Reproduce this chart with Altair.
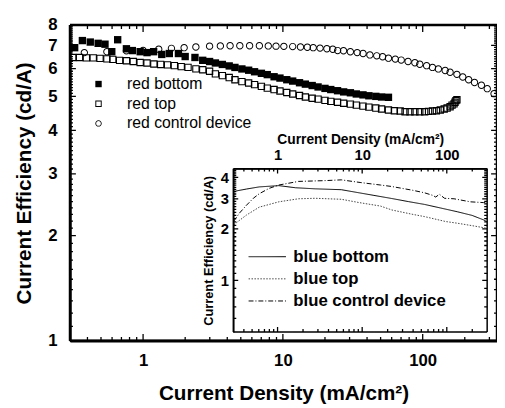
import altair as alt
import pandas as pd

FONT = "Liberation Sans"

RED_NAMES = ["red bottom", "red top", "red control device"]
BLUE_NAMES = ["blue bottom", "blue top", "blue control device"]

# ---------------- main plot data (red devices) ----------------
red_bottom_x = [0.324, 0.368, 0.419, 0.477, 0.534, 0.597, 0.658, 0.760, 0.838, 0.953,
                1.067, 1.19, 1.36, 1.54, 1.79, 2.00, 2.35, 2.67, 2.99, 3.29,
                3.69, 4.13, 4.54, 5.09, 5.69, 6.27, 7.02, 7.73, 8.65, 9.53,
                10.66, 11.75, 13.15, 14.48, 16.2, 17.85, 20.0, 22.0, 24.6, 27.2,
                30.4, 33.5, 37.4, 41.2, 46.2, 50.8, 56.9]
red_bottom_y = [6.89, 7.22, 7.15, 7.09, 7.05, 6.71, 7.26, 6.84, 6.76, 6.71,
                6.67, 6.71, 6.59, 6.63, 6.63, 6.50, 6.46, 6.34, 6.29, 6.23,
                6.17, 6.11, 6.05, 5.99, 5.94, 5.88, 5.82, 5.77, 5.69, 5.64,
                5.58, 5.53, 5.47, 5.42, 5.37, 5.32, 5.27, 5.23, 5.19, 5.15,
                5.12, 5.08, 5.05, 5.02, 5.00, 4.98, 4.97]

red_top_x = [0.314, 0.351, 0.393, 0.440, 0.492, 0.551, 0.607, 0.679, 0.760, 0.851,
             0.953, 1.067, 1.194, 1.336, 1.496, 1.674, 1.874, 2.097, 2.386, 2.671,
             2.99, 3.29, 3.69, 4.13, 4.54, 5.09, 5.69, 6.27, 7.02, 7.73,
             8.65, 9.53, 10.66, 11.75, 13.15, 14.48, 16.2, 17.85, 20.0, 22.0,
             24.6, 27.2, 30.4, 33.5, 37.4, 41.2, 46.2, 50.8, 56.9, 62.7,
             69.0, 74.8, 81.1, 87.9, 95.3, 103.3, 110.1, 117.5, 125.3, 133.6,
             142.5, 149.5, 157.0, 162.2, 167.5, 170.2, 172.9, 175.7]
red_top_y = [6.46, 6.46, 6.44, 6.44, 6.42, 6.40, 6.38, 6.34, 6.32, 6.29,
             6.25, 6.23, 6.19, 6.17, 6.15, 6.12, 6.08, 6.05, 5.99, 5.96,
             5.90, 5.80, 5.73, 5.66, 5.58, 5.51, 5.46, 5.40, 5.34, 5.28,
             5.23, 5.18, 5.13, 5.08, 5.03, 4.98, 4.94, 4.91, 4.87, 4.84,
             4.81, 4.78, 4.75, 4.72, 4.69, 4.66, 4.63, 4.60, 4.57, 4.55,
             4.54, 4.52, 4.52, 4.52, 4.52, 4.52, 4.53, 4.54, 4.55, 4.57,
             4.60, 4.63, 4.67, 4.72, 4.76, 4.81, 4.86, 4.89]

red_ctrl_x = [0.380, 0.551, 0.760, 1.00, 1.294, 1.595, 1.966, 2.386, 2.99, 3.57,
              4.19, 4.92, 5.78, 6.79, 7.86, 8.93, 10.16, 11.75, 13.36, 14.96,
              16.48, 18.44, 20.64, 22.73, 24.64, 27.14, 30.38, 34.0, 37.45, 41.92,
              46.93, 51.67, 56.9, 63.7, 70.2, 78.6, 87.9, 95.3, 106.7, 117.5,
              129.4, 144.8, 157.0, 175.7, 193.5, 213.2, 234.8, 263.0, 289.6, 323.9]
red_ctrl_y = [6.67, 6.71, 6.75, 6.77, 6.82, 6.86, 6.89, 6.92, 6.96, 6.97,
              6.98, 6.98, 6.98, 6.98, 6.97, 6.96, 6.95, 6.94, 6.92, 6.91,
              6.89, 6.87, 6.84, 6.82, 6.76, 6.75, 6.71, 6.67, 6.63, 6.57,
              6.53, 6.49, 6.43, 6.39, 6.35, 6.29, 6.24, 6.18, 6.12, 6.05,
              5.99, 5.93, 5.86, 5.78, 5.68, 5.58, 5.48, 5.38, 5.26, 5.09]

# ---------------- inset data (blue devices) ----------------
blue_bottom_x = [0.301, 0.429, 0.607, 1.035, 1.63, 2.78, 5.67, 9.23, 13.77, 22.45,
                 35.0, 54.7, 84.5, 133.0, 198.6, 271.2, 295]
blue_bottom_y = [3.31, 3.42, 3.52, 3.58, 3.48, 3.43, 3.39, 3.25, 3.14, 3.01,
                 2.89, 2.78, 2.65, 2.52, 2.40, 2.26, 2.21]

blue_top_x = [0.305, 0.429, 0.607, 1.035, 1.766, 2.78, 5.67, 9.23, 16.47, 22.45,
              40.0, 54.7, 96.6, 133.0, 198.6, 295]
blue_top_y = [2.12, 2.41, 2.68, 2.88, 3.00, 3.02, 2.98, 2.85, 2.72, 2.58,
              2.43, 2.36, 2.21, 2.16, 2.09, 2.02]

blue_ctrl_x = [0.303, 0.356, 0.429, 0.517, 0.607, 0.793, 1.035, 1.766, 3.63, 5.67,
               9.66, 16.47, 22.27, 40.0, 54.7, 68.3, 74.0, 81.7, 94.1, 121.8,
               189.7, 271.2, 295]
blue_ctrl_y = [2.22, 2.48, 2.75, 3.02, 3.21, 3.45, 3.61, 3.79, 3.83, 3.87,
               3.73, 3.61, 3.54, 3.36, 3.25, 3.14, 3.07, 3.19, 3.02, 3.00,
               2.88, 2.85, 2.85]

# ---------------- tick values ----------------
x_major = [1, 10, 100]
x_minor = [0.4, 0.5, 0.6, 0.7, 0.8, 0.9, 2, 3, 4, 5, 6, 7, 8, 9,
           20, 30, 40, 50, 60, 70, 80, 90, 200, 300]
y_major = [1, 2, 3, 4, 5, 6, 7, 8]
y_minor = [round(v / 10, 1) for v in range(11, 80) if v % 10]
ix_major = [1, 10, 100]
ix_minor = [0.4, 0.5, 0.6, 0.7, 0.8, 0.9, 2, 3, 4, 5, 6, 7, 8, 9,
            20, 30, 40, 50, 60, 70, 80, 90, 200]
iy_major = [1, 2, 3, 4]
iy_minor = [round(v / 10, 1) for v in range(6, 45) if v % 10]

# ---------------- layout ----------------
W, H = 434, 321
X_DOM = [0.3, 340]
Y_DOM = [1, 8]
IX_DOM = [0.3, 300]
IY_DOM = [0.5, 4.5]
IX_RANGE = [166, 424]
IY_RANGE = [312, 146]

# marker outlines (unit-square SVG paths; "ring" shapes for the open symbols)
SQUARE = "M-1,-1H1V1H-1Z"
OPEN_SQUARE = "M-1,-1H1V1H-1Z M-0.7,-0.7V0.7H0.7V-0.7Z"
OPEN_CIRCLE = ("M-1,0A1,1,0,1,0,1,0A1,1,0,1,0,-1,0Z "
               "M-0.74,0A0.74,0.74,0,1,1,0.74,0A0.74,0.74,0,1,1,-0.74,0Z")


def frame(xs, ys, name):
    return pd.DataFrame({"x": xs, "y": ys, "series": [name] * len(xs)})


red = pd.concat([frame(red_bottom_x, red_bottom_y, RED_NAMES[0]),
                 frame(red_top_x, red_top_y, RED_NAMES[1]),
                 frame(red_ctrl_x, red_ctrl_y, RED_NAMES[2])], ignore_index=True)
blue = pd.concat([frame(blue_bottom_x, blue_bottom_y, BLUE_NAMES[0]),
                  frame(blue_top_x, blue_top_y, BLUE_NAMES[1]),
                  frame(blue_ctrl_x, blue_ctrl_y, BLUE_NAMES[2])], ignore_index=True)

MX = alt.Scale(type="log", domain=X_DOM, nice=False)
MY = alt.Scale(type="log", domain=Y_DOM, nice=False)
IX = alt.Scale(type="log", domain=IX_DOM, range=IX_RANGE, nice=False)
IY = alt.Scale(type="log", domain=IY_DOM, range=IY_RANGE, nice=False)

SOLID = [1, 0]
AX_MX = alt.Axis(orient="bottom", values=x_major, format="d", ticks=False, tickSize=0,
                 domain=True, domainColor="black", domainWidth=2.5, domainDash=SOLID,
                 grid=False, labelFontSize=17, labelFontWeight="bold", zindex=1,
                 labelPadding=12, title="Current Density (mA/cm²)", titleFontSize=21,
                 titleFontWeight="bold", titlePadding=15)
AX_MY = alt.Axis(orient="left", values=y_major, format="d", ticks=False, tickSize=0,
                 domain=True, domainColor="black", domainWidth=2.5, domainDash=SOLID,
                 grid=False, labelFontSize=17, labelFontWeight="bold", zindex=1,
                 labelPadding=13, title="Current Efficiency (cd/A)", titleFontSize=21,
                 titleFontWeight="bold", titlePadding=14)
AX_IX = alt.Axis(orient="top", offset=-IY_RANGE[1], values=ix_major, format="d",
                 ticks=False, tickSize=0, domain=True, domainColor="black",
                 domainWidth=1.5, domainDash=SOLID, grid=False, labelFontSize=15,
                 zindex=1, labelFontWeight="bold", labelPadding=6,
                 title="Current Density (mA/cm²)", titleFontSize=14,
                 titleFontWeight="bold", titlePadding=2)
AX_IY = alt.Axis(orient="left", offset=-IX_RANGE[0], values=iy_major, format="d",
                 ticks=False, tickSize=0, domain=True, domainColor="black",
                 domainWidth=1.5, domainDash=SOLID, grid=False, labelFontSize=15,
                 zindex=1, labelFontWeight="bold", labelPadding=5,
                 title="Current Efficiency (cd/A)", titleFontSize=13,
                 titleFontWeight="bold", titlePadding=5)

# frame/tick styling through nominal scales (solid black stroke)
K_STROKE = alt.Stroke("k:N", scale=alt.Scale(domain=["frame"], range=["black"]), legend=None)
K_DASH = alt.StrokeDash("k:N", scale=alt.Scale(domain=["frame"], range=[SOLID]), legend=None)


def box(xscale, yscale, xaxis, yaxis, xdom, ydom, width):
    df = pd.DataFrame({"x": [xdom[0], xdom[1], xdom[1], xdom[0], xdom[0]],
                       "y": [ydom[0], ydom[0], ydom[1], ydom[1], ydom[0]],
                       "i": [0, 1, 2, 3, 4], "k": ["frame"] * 5})
    return alt.Chart(df).mark_line(strokeWidth=width).encode(
        x=alt.X("x:Q", scale=xscale, axis=xaxis),
        y=alt.Y("y:Q", scale=yscale, axis=yaxis),
        order="i:Q", stroke=K_STROKE, strokeDash=K_DASH,
    )


def xticks(values, scale, axis, edge, length):
    df = pd.DataFrame({"x": values, "k": ["frame"] * len(values)})
    return alt.Chart(df).mark_rule(strokeWidth=1.3).encode(
        x=alt.X("x:Q", scale=scale, axis=axis),
        y=alt.value(edge), y2=alt.value(edge + length),
        stroke=K_STROKE, strokeDash=K_DASH,
    )


def yticks(values, scale, axis, edge, length):
    df = pd.DataFrame({"y": values, "k": ["frame"] * len(values)})
    return alt.Chart(df).mark_rule(strokeWidth=1.3).encode(
        y=alt.Y("y:Q", scale=scale, axis=axis),
        x=alt.value(edge), x2=alt.value(edge + length),
        stroke=K_STROKE, strokeDash=K_DASH,
    )


legend_red = alt.Legend(title=None, orient="none", legendX=21, legendY=52,
                        labelFontSize=16, labelColor="black", symbolSize=42,
                        symbolFillColor="black", symbolStrokeWidth=0,
                        labelOffset=21, rowPadding=4, padding=0)

red_layer = alt.Chart(red).mark_point(filled=True, color="black", strokeWidth=0,
                                      size=56, opacity=1).encode(
    x=alt.X("x:Q", scale=MX, axis=AX_MX),
    y=alt.Y("y:Q", scale=MY, axis=AX_MY),
    shape=alt.Shape("series:N", sort=RED_NAMES,
                    scale=alt.Scale(domain=RED_NAMES, range=[SQUARE, OPEN_SQUARE, OPEN_CIRCLE]),
                    legend=legend_red),
)

legend_blue = alt.Legend(title=None, orient="none", legendX=181, legendY=227,
                         labelFontSize=17, labelFontWeight="bold", labelColor="black",
                         symbolType="stroke", symbolSize=1444, symbolStrokeWidth=1,
                         clipHeight=17, labelOffset=7, rowPadding=4.5, padding=0)

blue_layer = alt.Chart(blue).mark_line(strokeWidth=1).encode(
    x=alt.X("x:Q", scale=IX, axis=AX_IX),
    y=alt.Y("y:Q", scale=IY, axis=AX_IY),
    strokeDash=alt.StrokeDash("series:N", sort=BLUE_NAMES,
                              scale=alt.Scale(domain=BLUE_NAMES,
                                              range=[[1, 0], [1.5, 1.5], [5, 2, 1, 2]]),
                              legend=legend_blue),
    stroke=alt.Stroke("series:N", sort=BLUE_NAMES,
                      scale=alt.Scale(domain=BLUE_NAMES, range=["black", "#444444", "black"]),
                      legend=legend_blue),
)

main_part = alt.layer(
    box(MX, MY, AX_MX, AX_MY, X_DOM, Y_DOM, 2.5),
    xticks(x_major, MX, AX_MX, H, -7), xticks(x_minor, MX, AX_MX, H, -4),
    xticks(x_major, MX, AX_MX, 0, 7), xticks(x_minor, MX, AX_MX, 0, 4),
    yticks(y_major, MY, AX_MY, 0, 6), yticks(y_minor, MY, AX_MY, 0, 3),
    yticks(y_major, MY, AX_MY, W, -6), yticks(y_minor, MY, AX_MY, W, -3),
    red_layer,
)

inset_frame = alt.layer(
    box(IX, IY, None, None, IX_DOM, IY_DOM, 1.5),
    xticks(ix_major, IX, None, IY_RANGE[0], -5), xticks(ix_minor, IX, None, IY_RANGE[0], -3),
    xticks(ix_major, IX, None, IY_RANGE[1], 5), xticks(ix_minor, IX, None, IY_RANGE[1], 3),
    yticks(iy_major, IY, None, IX_RANGE[0], 5), yticks(iy_minor, IY, None, IX_RANGE[0], 3),
    yticks(iy_major, IY, None, IX_RANGE[1], -5), yticks(iy_minor, IY, None, IX_RANGE[1], -3),
)

chart = alt.layer(main_part, inset_frame, blue_layer).resolve_scale(
    x="independent", y="independent", stroke="independent", strokeDash="independent"
).properties(
    width=W, height=H,
    autosize=alt.AutoSizeParams(type="none"),
    padding={"left": 63, "top": 14, "right": 0, "bottom": 65},
    background="white",
).configure_view(
    stroke="black", strokeWidth=2, strokeDash=SOLID
).configure_axis(
    labelFont=FONT, titleFont=FONT, labelColor="black", titleColor="black"
).configure_legend(
    labelFont=FONT
)

chart.save("out.html", embed_options={"renderer": "svg", "actions": False})
